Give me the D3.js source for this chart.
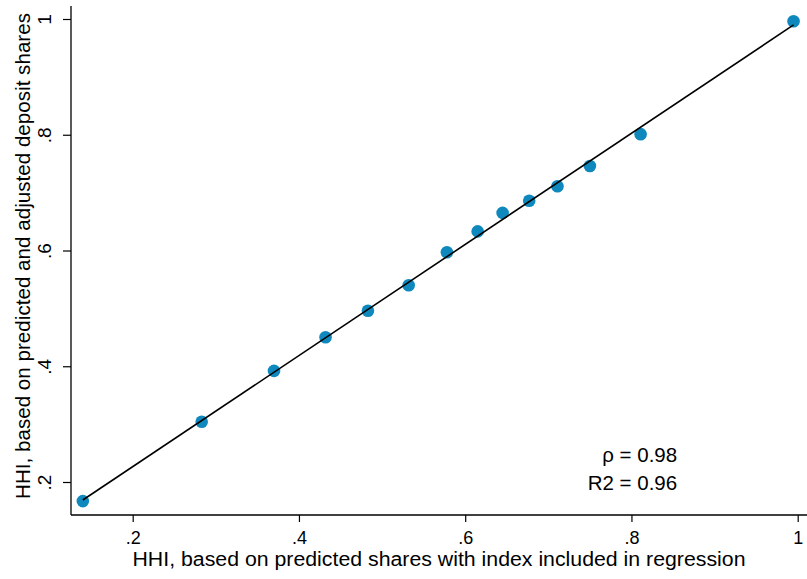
<!DOCTYPE html>
<html>
<head>
<meta charset="utf-8">
<script src="https://cdn.jsdelivr.net/npm/d3@7"></script>
<style>
  body { margin: 0; background: #fff; }
  svg { display: block; font-family: "Liberation Sans", Arial, Helvetica, sans-serif; }
</style>
</head>
<body>
<svg width="807" height="579"></svg>
<script>
// HHI points
var hhiPredicted = [0.140, 0.283, 0.370, 0.432, 0.483, 0.532, 0.578, 0.615, 0.645, 0.677, 0.711, 0.750, 0.811, 0.995];
var hhiAdjusted  = [0.167, 0.304, 0.392, 0.450, 0.496, 0.540, 0.597, 0.633, 0.665, 0.686, 0.711, 0.746, 0.801, 0.996];
var xTicks = [0.2, 0.4, 0.6, 0.8, 1];
var yTicks = [0.2, 0.4, 0.6, 0.8, 1];
var statLines = ["\u03c1 = 0.98", "R2 = 0.96"];
var xTitle = "HHI, based on predicted shares with index included in regression";
var yTitle = "HHI, based on predicted and adjusted deposit shares";

var svg = d3.select("svg");
var fmt = function (d) { return d === 1 ? "1" : String(d).replace(/^0/, ""); };

var x = d3.scaleLinear().domain([0.2, 1]).range([132.7, 797.7]);
var y = d3.scaleLinear().domain([0.2, 1]).range([482, 19]);
// plot region edges (don't call it "top", that's window.top)
var padL = 71, padB = 515, padR = 807, padT = 6;

var pts = hhiPredicted.map(function (v, i) { return { x: v, y: hhiAdjusted[i] }; });

// OLS fit line
var mx = d3.mean(pts, d => d.x), my = d3.mean(pts, d => d.y);
var b = d3.sum(pts, d => (d.x - mx) * (d.y - my)) / d3.sum(pts, d => (d.x - mx) * (d.x - mx));
var a = my - b * mx;
var xr = d3.extent(hhiPredicted);

// points
svg.append("g")
  .selectAll("circle")
  .data(pts)
  .join("circle")
  .attr("cx", d => x(d.x))
  .attr("cy", d => y(d.y))
  .attr("r", 6.3)
  .attr("fill", "#0f89bd");

svg.append("line")
  .attr("x1", x(xr[0])).attr("y1", y(a + b * xr[0]))
  .attr("x2", x(xr[1])).attr("y2", y(a + b * xr[1]))
  .attr("stroke", "#000")
  .attr("stroke-width", 1.6);

// axes
var xAxis = svg.append("g")
  .attr("transform", "translate(0," + padB + ")")
  .call(d3.axisBottom(x).tickValues(xTicks).tickFormat(fmt).tickSize(7).tickPadding(9));
xAxis.select(".domain").remove();
xAxis.append("line").attr("x1", padL).attr("x2", padR).attr("stroke", "#000").attr("stroke-width", 1.3);
xAxis.selectAll(".tick line").attr("stroke", "#000").attr("stroke-width", 1.2);
xAxis.selectAll(".tick text").attr("font-size", 18).attr("fill", "#000")
  .attr("font-family", "Liberation Sans, Arial, sans-serif");

var yAxis = svg.append("g")
  .attr("transform", "translate(" + padL + ",0)")
  .call(d3.axisLeft(y).tickValues(yTicks).tickFormat(fmt).tickSize(8));
yAxis.select(".domain").remove();
yAxis.append("line").attr("y1", padT).attr("y2", padB).attr("stroke", "#000").attr("stroke-width", 1.3);
yAxis.selectAll(".tick line").attr("stroke", "#000").attr("stroke-width", 1.2);
yAxis.selectAll(".tick text")
  .attr("font-size", 19).attr("fill", "#000")
  .attr("font-family", "Liberation Sans, Arial, sans-serif")
  .attr("x", null).attr("dy", null)
  .attr("text-anchor", "middle")
  .attr("transform", "translate(-20,0) rotate(-90)");

// titles
svg.append("text")
  .attr("x", (padL + padR) / 2)
  .attr("y", 566)
  .attr("text-anchor", "middle")
  .attr("font-size", 20)
  .attr("textLength", 613)
  .attr("lengthAdjust", "spacingAndGlyphs")
  .text(xTitle);

svg.append("text")
  .attr("transform", "translate(29.5,256) rotate(-90)")
  .attr("text-anchor", "middle")
  .attr("font-size", 21)
  .attr("textLength", 486)
  .attr("lengthAdjust", "spacingAndGlyphs")
  .text(yTitle);

// stats annotation
svg.append("g")
  .selectAll("text")
  .data(statLines)
  .join("text")
  .attr("x", x(0.855))
  .attr("y", (d, i) => y(0.2346) + i * 28.5)
  .attr("text-anchor", "end")
  .attr("font-size", 20.5)
  .text(d => d);
</script>
</body>
</html>
